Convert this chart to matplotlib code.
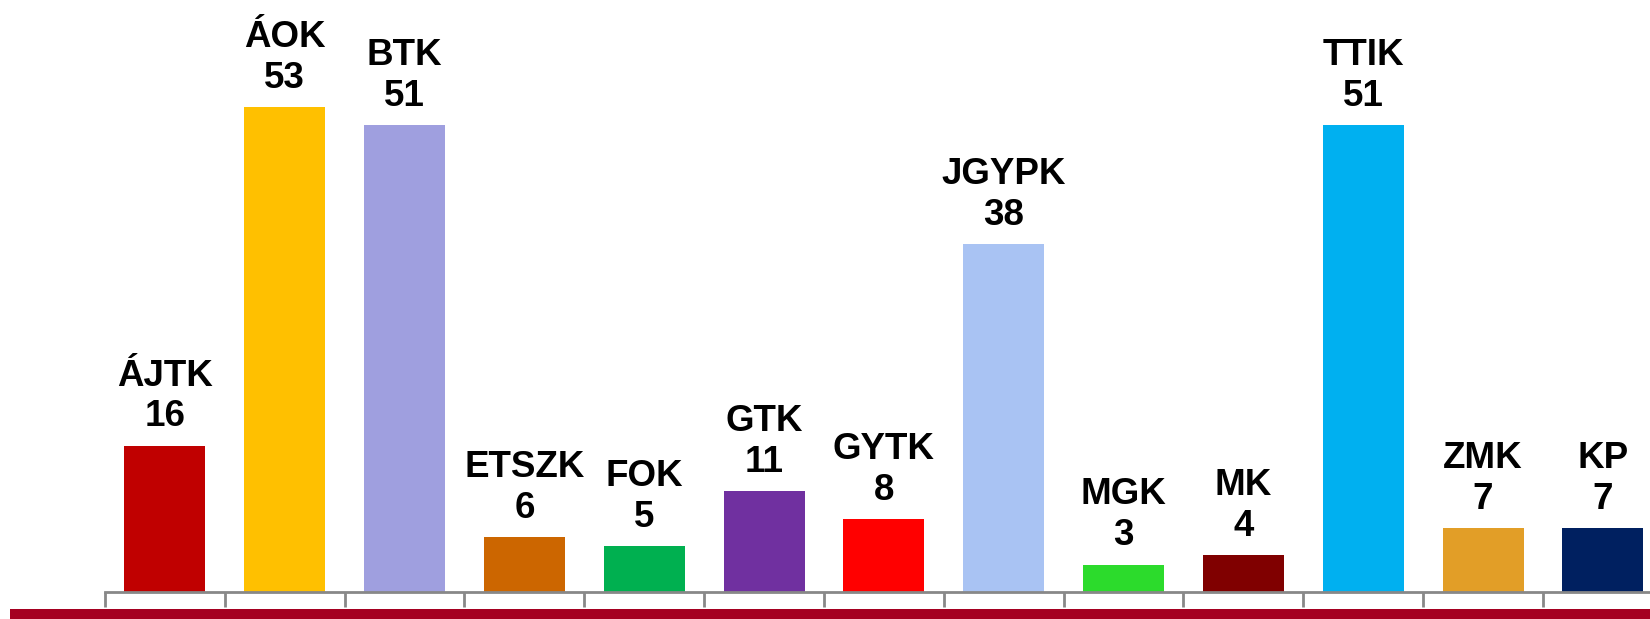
import matplotlib

matplotlib.use("Agg")
import matplotlib.pyplot as plt
from matplotlib.patches import Rectangle

# faculties and counts
faculties = ["ÁJTK", "ÁOK", "BTK", "ETSZK", "FOK", "GTK", "GYTK",
             "JGYPK", "MGK", "MK", "TTIK", "ZMK", "KP"]
counts = [16, 53, 51, 6, 5, 11, 8, 38, 3, 4, 51, 7, 7]
colors = ["#C00000", "#FFC000", "#9F9FDF", "#CC6600", "#00B050", "#7030A0",
          "#FF0000", "#A9C3F3", "#2CDB2C", "#800000", "#00B0F0", "#E29E27",
          "#002060"]

plt.rcParams["font.family"] = ["Liberation Sans", "DejaVu Sans"]

W, H = 1650, 619
fig = plt.figure(figsize=(W / 100, H / 100), dpi=100)

# axes geometry in pixels (axis line at y=592, first tick at x=105, 119.8 px per slot)
x0, y_axis, slot, px_per_unit, ytop = 105, 592, 119.83, 9.15, 60
ax = fig.add_axes([x0 / W, (H - y_axis) / H,
                   len(faculties) * slot / W, ytop * px_per_unit / H])

xs = list(range(len(faculties)))
bars = ax.bar(xs, counts, width=0.676, color=colors)

for b, name, n in zip(bars, faculties, counts):
    ax.annotate(f"{name}\n{n}", (b.get_x() + b.get_width() / 2, b.get_height()),
                xytext=(0, 8), textcoords="offset points",
                ha="center", va="bottom", multialignment="center",
                fontsize=26.5, fontweight="bold", color="black",
                linespacing=1.22, annotation_clip=False)

ax.set_xlim(-0.5, len(faculties) - 0.5)
ax.set_ylim(0, ytop)
for side in ("top", "right", "left"):
    ax.spines[side].set_visible(False)
ax.spines["bottom"].set_color("#888888")
ax.spines["bottom"].set_linewidth(2)
ax.set_yticks([])
ax.set_xticks([i - 0.5 for i in range(len(faculties) + 1)])
ax.set_xticklabels([])
ax.tick_params(axis="x", direction="out", length=11, width=2, color="#888888")

# dark red strip along the bottom edge
fig.add_artist(Rectangle((10 / W, 0), 1, 10 / H, transform=fig.transFigure,
                         color="#A50021", lw=0))

fig.savefig("out.png", dpi=100)
